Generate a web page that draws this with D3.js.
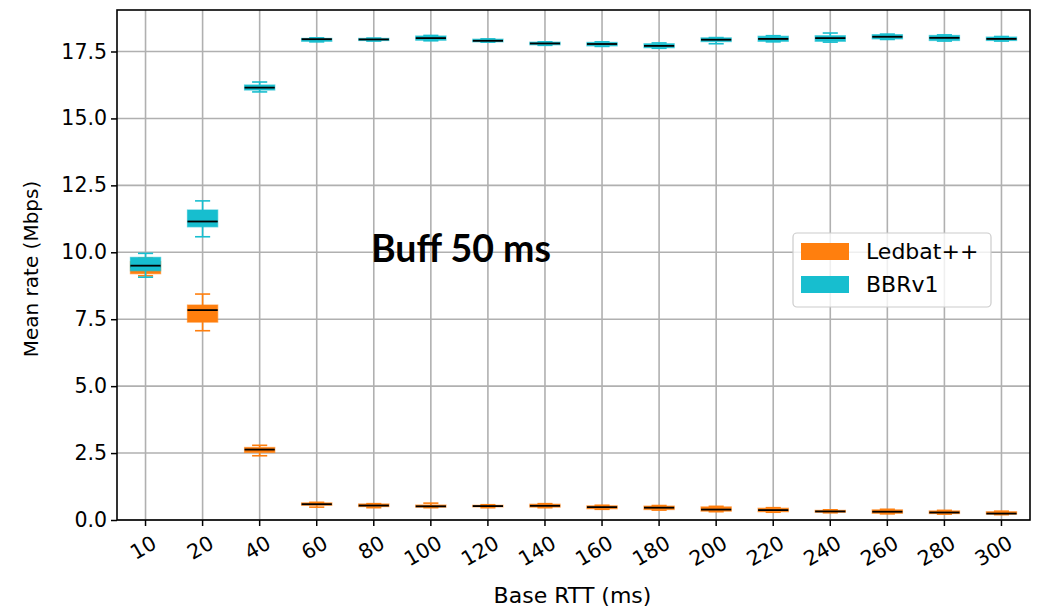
<!DOCTYPE html>
<html><head><meta charset="utf-8">
<script src="https://cdn.jsdelivr.net/npm/d3@7"></script>
<style>body{margin:0;background:#fff}svg{display:block}</style>
</head><body>
<svg id="chart" width="1045" height="610"></svg>
<script>
const categories = ["10","20","40","60","80","100","120","140","160","180","200","220","240","260","280","300"];
const yTicks = [0, 2.5, 5, 7.5, 10, 12.5, 15, 17.5];
const seriesNames = ["Ledbat++", "BBRv1"];
const seriesColors = ["#ff7f0e", "#17becf"];

const ledbatLow  = [9.12,7.07,2.40,0.48,0.46,0.46,0.46,0.46,0.40,0.37,0.31,0.29,0.27,0.23,0.22,0.20];
const ledbatQ1   = [9.20,7.39,2.52,0.55,0.50,0.48,0.49,0.48,0.42,0.39,0.33,0.31,0.29,0.25,0.24,0.22];
const ledbatMed  = [9.45,7.84,2.63,0.59,0.54,0.51,0.52,0.53,0.48,0.46,0.39,0.37,0.32,0.31,0.28,0.24];
const ledbatQ3   = [9.65,8.03,2.71,0.64,0.60,0.56,0.55,0.59,0.53,0.52,0.49,0.44,0.36,0.38,0.34,0.31];
const ledbatHigh = [9.78,8.44,2.79,0.66,0.61,0.63,0.57,0.61,0.55,0.54,0.51,0.46,0.38,0.40,0.36,0.33];

const bbrLow  = [9.07,10.58,15.99,17.86,17.89,17.90,17.85,17.73,17.69,17.62,17.79,17.86,17.85,17.95,17.89,17.89];
const bbrQ1   = [9.31,10.95,16.06,17.88,17.91,17.92,17.86,17.75,17.71,17.64,17.87,17.88,17.88,17.97,17.91,17.91];
const bbrMed  = [9.50,11.15,16.15,17.96,17.95,18.00,17.90,17.80,17.78,17.71,17.94,17.97,18.00,18.05,18.01,17.97];
const bbrQ3   = [9.81,11.58,16.25,17.99,17.99,18.08,17.96,17.85,17.84,17.79,18.01,18.07,18.09,18.13,18.10,18.04];
const bbrHigh = [9.96,11.92,16.36,18.01,18.00,18.10,17.97,17.86,17.86,17.82,18.02,18.09,18.19,18.15,18.12,18.06];

const L = 117, R = 1030, T = 10, B = 520;
const svg = d3.select("#chart");
const x = d3.scaleBand().domain(categories).range([L, R]).paddingInner(0).paddingOuter(0);
const y = d3.scaleLinear().domain([0, 19.05]).range([B, T]);
const cx = c => x(c) + x.bandwidth() / 2;
const boxW = x.bandwidth() * 0.53;
const capW = boxW / 2;
const font = "DejaVu Sans";

// grid
const grid = svg.append("g");
grid.selectAll("line.v").data(categories).join("line")
  .attr("x1", d => cx(d)).attr("x2", d => cx(d)).attr("y1", T).attr("y2", B)
  .attr("stroke", "#b0b0b0").attr("stroke-width", 1.6);
grid.selectAll("line.h").data(yTicks).join("line")
  .attr("x1", L).attr("x2", R).attr("y1", d => y(d)).attr("y2", d => y(d))
  .attr("stroke", "#b0b0b0").attr("stroke-width", 1.6);

function drawSeries(color, lo, q1, med, q3, hi) {
  const g = svg.append("g");
  const data = categories.map((c, i) => ({c, lo: lo[i], q1: q1[i], med: med[i], q3: q3[i], hi: hi[i]}));
  const s = g.selectAll("g").data(data).join("g");
  s.append("line").attr("x1", d => cx(d.c)).attr("x2", d => cx(d.c))
    .attr("y1", d => y(d.lo)).attr("y2", d => y(d.q1)).attr("stroke", color).attr("stroke-width", 1.6);
  s.append("line").attr("x1", d => cx(d.c)).attr("x2", d => cx(d.c))
    .attr("y1", d => y(d.q3)).attr("y2", d => y(d.hi)).attr("stroke", color).attr("stroke-width", 1.6);
  s.append("line").attr("x1", d => cx(d.c) - capW / 2).attr("x2", d => cx(d.c) + capW / 2)
    .attr("y1", d => y(d.lo)).attr("y2", d => y(d.lo)).attr("stroke", color).attr("stroke-width", 1.6);
  s.append("line").attr("x1", d => cx(d.c) - capW / 2).attr("x2", d => cx(d.c) + capW / 2)
    .attr("y1", d => y(d.hi)).attr("y2", d => y(d.hi)).attr("stroke", color).attr("stroke-width", 1.6);
  s.append("rect").attr("x", d => cx(d.c) - boxW / 2).attr("width", boxW)
    .attr("y", d => y(d.q3)).attr("height", d => Math.max(0.5, y(d.q1) - y(d.q3)))
    .attr("fill", color).attr("stroke", color).attr("stroke-opacity", 0.6).attr("stroke-width", 1.2);
  s.append("line").attr("x1", d => cx(d.c) - boxW / 2).attr("x2", d => cx(d.c) + boxW / 2)
    .attr("y1", d => y(d.med)).attr("y2", d => y(d.med)).attr("stroke", "#000").attr("stroke-width", 1.8);
}
drawSeries(seriesColors[0], ledbatLow, ledbatQ1, ledbatMed, ledbatQ3, ledbatHigh);
drawSeries(seriesColors[1], bbrLow, bbrQ1, bbrMed, bbrQ3, bbrHigh);

// axes
const xAxis = svg.append("g").attr("transform", `translate(0,${B})`)
  .call(d3.axisBottom(x).tickSize(6).tickSizeOuter(0));
xAxis.select(".domain").remove();
xAxis.selectAll(".tick line").attr("stroke", "#000").attr("stroke-width", 1.5);
xAxis.selectAll(".tick text").attr("font-family", font).attr("font-size", 20.5).attr("fill", "#000")
  .attr("text-anchor", "end").attr("dy", null).attr("y", 0)
  .attr("transform", "translate(5,14) rotate(-30)").attr("dominant-baseline", "hanging");

const yAxis = svg.append("g").attr("transform", `translate(${L},0)`)
  .call(d3.axisLeft(y).tickValues(yTicks).tickFormat(d3.format(".1f")).tickSize(6).tickSizeOuter(0));
yAxis.select(".domain").remove();
yAxis.selectAll(".tick line").attr("stroke", "#000").attr("stroke-width", 1.5);
yAxis.selectAll(".tick text").attr("font-family", font).attr("font-size", 20.5).attr("fill", "#000").attr("x", -10);

svg.append("rect").attr("x", L).attr("y", T).attr("width", R - L).attr("height", B - T)
  .attr("fill", "none").attr("stroke", "#000").attr("stroke-width", 1.6);

// labels
svg.append("text").attr("x", (L + R) / 2 - 1).attr("y", 603).attr("text-anchor", "middle")
  .attr("font-family", font).attr("font-size", 22).text("Base RTT (ms)");
svg.append("text").attr("transform", `translate(38,${(T + B) / 2 + 4}) rotate(-90)`).attr("text-anchor", "middle")
  .attr("font-family", font).attr("font-size", 20).text("Mean rate (Mbps)");

svg.append("text").attr("x", 371).attr("y", 262).attr("font-family", "Lato").attr("font-weight", 700)
  .attr("font-size", 37.5).text("Buff 50 ms");

// legend
const lg = svg.append("g");
lg.append("rect").attr("x", 793).attr("y", 233).attr("width", 198).attr("height", 74).attr("rx", 4)
  .attr("fill", "#fff").attr("fill-opacity", 0.8).attr("stroke", "#cccccc").attr("stroke-width", 1.2);
seriesNames.forEach((n, i) => {
  lg.append("rect").attr("x", 801).attr("y", 243 + i * 33).attr("width", 48).attr("height", 17).attr("fill", seriesColors[i]);
  lg.append("text").attr("x", 866).attr("y", 259 + i * 33).attr("font-family", font).attr("font-size", 22).text(n);
});
</script>
</body></html>
